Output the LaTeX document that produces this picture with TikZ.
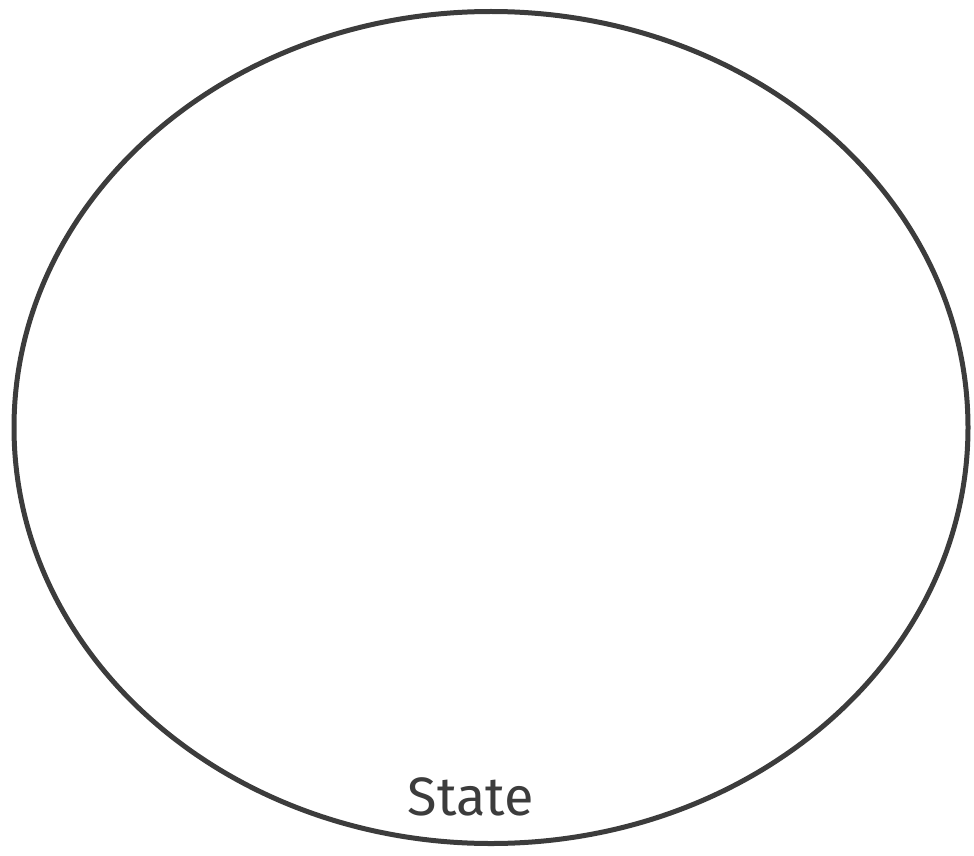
\documentclass[tikz,border=0pt]{standalone}
\usepackage{fontspec}
\setmainfont{Fira Sans}
\usetikzlibrary{shapes.geometric}
\definecolor{pen}{HTML}{3C3C3C}
\begin{document}
\begin{tikzpicture}[x=1pt,y=1pt,
  stateshape/.style={draw=pen,line width=5pt,ellipse,minimum width=954pt,minimum height=832pt,inner sep=0pt},
  statelabel/.style={text=pen,font=\fontsize{54}{60}\selectfont,inner sep=0pt}]
\useasboundingbox (0,0) rectangle (974,-856);
\node[stateshape] (state) at (491,-427.5) {};
\node[statelabel] (lbl) at (471,-797) {State};
\end{tikzpicture}
\end{document}
